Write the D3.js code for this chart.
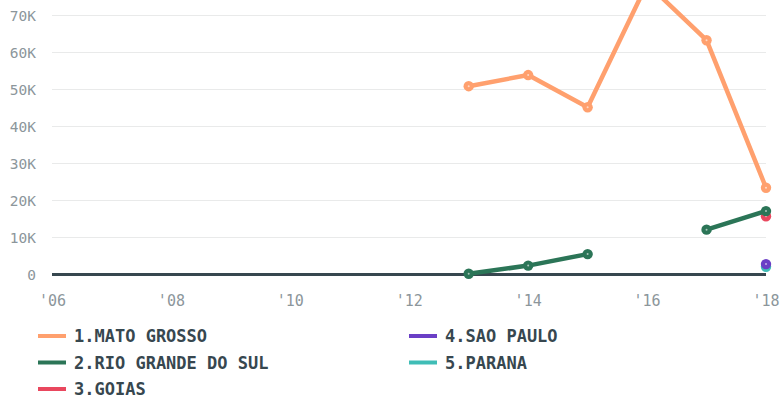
<!DOCTYPE html>
<html><head><meta charset="utf-8">
<script src="https://cdn.jsdelivr.net/npm/d3@7"></script>
<style>
body{margin:0;background:#fff;}
svg{display:block;}
</style></head>
<body>
<svg id="chart" width="780" height="403"></svg>
<script>
const years = [2013, 2014, 2015, 2016, 2017, 2018];
const seriesNames = ["1.MATO GROSSO", "2.RIO GRANDE DO SUL", "3.GOIAS", "4.SAO PAULO", "5.PARANA"];
const matoGrosso = [50800, 53800, 45100, 78500, 63200, 23400];
const rioGrande = [200, 2400, 5500, null, 12100, 17100];
const goias = [null, null, null, null, null, 15700];
const saoPaulo = [null, null, null, null, null, 2800];
const parana = [null, null, null, null, null, 2100];
const colors = ["#ffa06e", "#2b7557", "#e9475e", "#6b3fc6", "#3fbdb6"];
const yTicks = [0, 10000, 20000, 30000, 40000, 50000, 60000, 70000];
const yTickLabels = ["0", "10K", "20K", "30K", "40K", "50K", "60K", "70K"];
const xTicks = [2006, 2008, 2010, 2012, 2014, 2016, 2018];
const xTickLabels = ["'06", "'08", "'10", "'12", "'14", "'16", "'18"];

const allValues = [matoGrosso, rioGrande, goias, saoPaulo, parana];
const svg = d3.select("#chart");
const x = d3.scaleLinear().domain([2006, 2018]).range([52.5, 766]);
const y = d3.scaleLinear().domain([0, 70000]).range([274.5, 15]);

// grid
const gY = svg.append("g");
gY.selectAll("line").data(yTicks.slice(1)).join("line")
  .attr("x1", 52).attr("x2", 766)
  .attr("y1", d => Math.round(y(d)) + 0.5).attr("y2", d => Math.round(y(d)) + 0.5)
  .attr("stroke", "#e9eaea").attr("stroke-width", 1);
gY.selectAll("text").data(yTicks).join("text")
  .attr("x", 36).attr("y", d => y(d) + 5.5)
  .attr("text-anchor", "end")
  .attr("font-family", "'DejaVu Sans Mono', monospace")
  .attr("font-size", 14.5).attr("fill", "#8c969b")
  .text((d, i) => yTickLabels[i]);

// x tick labels
svg.append("g").selectAll("text").data(xTicks).join("text")
  .attr("x", d => x(d)).attr("y", 306)
  .attr("text-anchor", "middle")
  .attr("font-family", "'DejaVu Sans Mono', monospace")
  .attr("font-size", 15).attr("fill", "#8c969b")
  .text((d, i) => xTickLabels[i]);

// zero line
svg.append("line").attr("x1", 52).attr("x2", 766)
  .attr("y1", y(0)).attr("y2", y(0))
  .attr("stroke", "#37474f").attr("stroke-width", 3);

const line = d3.line()
  .defined(d => d.v !== null)
  .x(d => x(d.year)).y(d => y(d.v));

// draw in reverse so Mato Grosso is on top
const order = [4, 3, 2, 1, 0];
order.forEach(si => {
  const data = years.map((yr, i) => ({year: yr, v: allValues[si][i]}));
  const g = svg.append("g");
  g.append("path").datum(data)
    .attr("d", line).attr("fill", "none")
    .attr("stroke", colors[si]).attr("stroke-width", 4.5)
    .attr("stroke-linejoin", "round").attr("stroke-linecap", "round");
  const pts = data.filter(d => d.v !== null);
  g.selectAll("circle.m").data(pts).join("circle").attr("class", "m")
    .attr("cx", d => x(d.year)).attr("cy", d => y(d.v))
    .attr("r", 5.2).attr("fill", colors[si]);
  g.selectAll("circle.c").data(pts).join("circle").attr("class", "c")
    .attr("cx", d => x(d.year)).attr("cy", d => y(d.v))
    .attr("r", 1).attr("fill", "#ffffff").attr("opacity", 0.6);
});

// legend
const legendPos = [[38, 336], [38, 362.5], [38, 389], [409, 336], [409, 362.5]];
const lg = svg.append("g");
seriesNames.forEach((name, i) => {
  const [lx, ly] = legendPos[i];
  lg.append("line").attr("x1", lx).attr("x2", lx + 28)
    .attr("y1", ly).attr("y2", ly)
    .attr("stroke", colors[i]).attr("stroke-width", 4);
  lg.append("text").attr("x", lx + 36).attr("y", ly + 6)
    .attr("font-family", "'DejaVu Sans Mono', monospace")
    .attr("font-weight", "bold").attr("font-size", 17)
    .attr("fill", "#37474f")
    .text(name);
});
</script>
</body></html>
